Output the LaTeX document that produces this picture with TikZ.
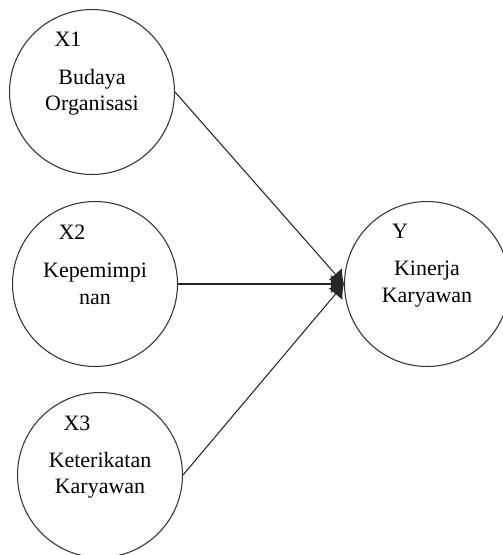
\documentclass[tikz,border=0pt]{standalone}
\usepackage{fontspec}
\setmainfont{Liberation Serif}
\usetikzlibrary{positioning,calc,arrows.meta}

\begin{document}
\begin{tikzpicture}[x=0.02cm,y=-0.02cm,
  var/.style={circle,draw=black!80,line width=0.6pt,minimum size=3.3cm,inner sep=0pt,
    align=center,font=\fontsize{12.5}{15}\selectfont},
  tag/.style={inner sep=0pt,font=\fontsize{12.5}{14}\selectfont},
  link/.style={line width=0.6pt,draw=black!85,-{Latex[length=2.6mm,width=3.6mm]}}]
\useasboundingbox (0,0) rectangle (503,555);
\node[var] (x1) at (92,92) {Budaya\\Organisasi};
\node[var] (x2) at (95,284) {Kepemimpi\\nan};
\node[var] (x3) at (100,475) {Keterikatan\\Karyawan};
\node[var] (y) at (427,284) {Kinerja\\Karyawan};
\node[tag] (t1) at ($(x1)+(-24,-53)$) {X1};
\node[tag] (t2) at ($(x2)+(-23,-52)$) {X2};
\node[tag] (t3) at ($(x3)+(-23,-52)$) {X3};
\node[tag] (t4) at ($(y)+(-27,-53)$) {Y};
\draw[link](x1.east) to (y.west);
\draw[link](x2.east) to (y.west);
\draw[link](x3.east) to (y.west);
\end{tikzpicture}
\end{document}
